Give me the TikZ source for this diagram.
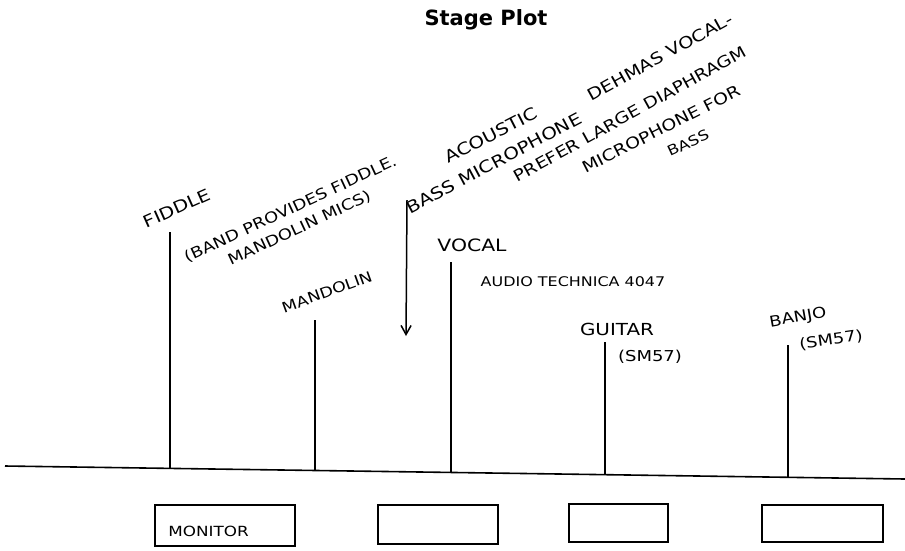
\documentclass[tikz,border=0pt]{standalone}
\usepackage{fontspec}
\newfontfamily\handfont[FakeStretch=1.2]{DejaVu Sans}
\newfontfamily\titlefont{DejaVu Sans}
\usetikzlibrary{calc,arrows.meta}

\tikzset{
  hw/.style={font=\handfont\fontsize{#1}{#1}\selectfont, inner sep=0pt},
  stand/.style={line width=1.6pt},
  stagebox/.style={draw, line width=1.5pt, inner sep=0pt},
}

\begin{document}
\begin{tikzpicture}[x=1pt,y=-1pt]
            \useasboundingbox (0,0) rectangle (905,550);
            \node[font=\titlefont\bfseries\fontsize{21}{21}\selectfont] (title) at (486,20) {Stage Plot};
            \coordinate (floorL) at (5,466);
            \coordinate (floorR) at (905,479);
            \draw[line width=1.6pt] (floorL) -- (floorR);
            \foreach \n/\x/\y in {fiddle/170/232, mandolin/315/320, vocal/451/262, guitar/605/342, banjo/788/345}
              {\coordinate (\n mic) at (\x,\y);
               \draw[stand] (\n mic) -- ($(floorL)!{(\x-5)/900}!(floorR)$);}
            \node[hw=16.6, rotate=24] (fiddle) at (177,208) {FIDDLE};
            \node[hw=15, rotate=25, align=center] (bandmics) at (295,219) {(BAND PROVIDES FIDDLE.\\[6pt]MANDOLIN MICS)};
            \node[hw=14.5, rotate=20] (mandolin) at (327,292) {MANDOLIN};
            \node[hw=17] (vocal) at (472,245) {VOCAL};
            \node[hw=13.3] (audiotech) at (573,282) {AUDIO TECHNICA 4047};
            \node[hw=16.6] (guitar) at (617,329) {GUITAR};
            \node[hw=15] (guitarsm) at (650,357) {(SM57)};
            \node[hw=15, rotate=10] (banjo) at (798,318) {BANJO};
            \node[hw=15, rotate=8] (banjosm) at (831,340) {(SM57)};
            \node[hw=16.6, rotate=27] (acoustic) at (491,135) {ACOUSTIC};
            \node[hw=16.6, rotate=28] (bassmic) at (494,163) {BASS MICROPHONE};
            \node[hw=16.2, rotate=29] (dehmas) at (660,57) {DEHMAS VOCAL-};
            \node[hw=15.8, rotate=29] (prefer) at (630,114) {PREFER LARGE DIAPHRAGM};
            \node[hw=15.8, rotate=27] (micfor) at (661,129) {MICROPHONE FOR};
            \node[hw=14, rotate=25] (bass) at (688,143) {BASS};
            \coordinate (arrowtop) at (407,200);
            \coordinate (arrowtip) at (406,336);
            \draw[line width=1.5pt, -{Straight Barb[length=9pt,width=10pt]}] (arrowtop) -- (arrowtip);
            \node[stagebox, minimum width=140pt, minimum height=41pt] (monitor) at (225,525.5) {};
            \node[hw=14, anchor=west] (monitortext) at ([xshift=14pt,yshift=-6pt]monitor.west) {MONITOR};
            \foreach \n/\x/\y/\w/\h in {boxb/438/524.5/120/39, boxc/618.5/523/99/38, boxd/822.5/523.5/121/37}
              \node[stagebox, minimum width=\w pt, minimum height=\h pt] (\n) at (\x,\y) {};
        \end{tikzpicture}
\end{document}
